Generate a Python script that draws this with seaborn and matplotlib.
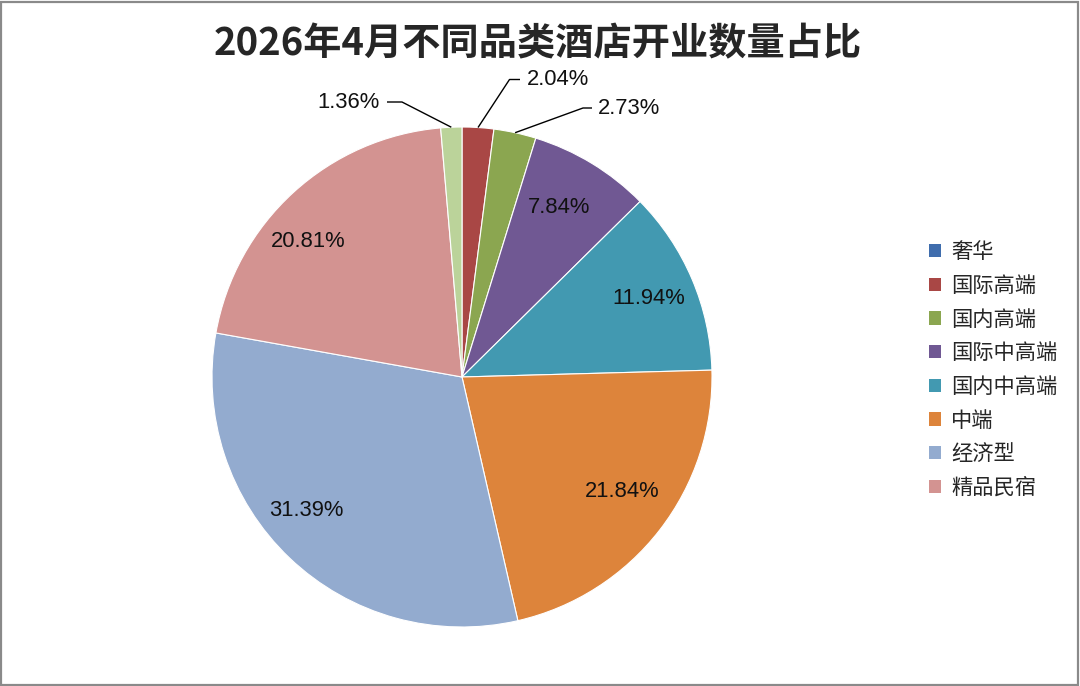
"""
2026年4月不同品类酒店开业数量占比 — pie chart recreated with seaborn/matplotlib.
"""
import matplotlib
matplotlib.use("Agg")
import matplotlib.pyplot as plt
from matplotlib.patches import Rectangle
import numpy as np
import seaborn as sns


TITLE = "2026年4月不同品类酒店开业数量占比"

# categories in drawing order (clockwise from 12 o'clock); last one has no legend entry
CATEGORIES = ["奢华", "国际高端", "国内高端", "国际中高端", "国内中高端",
              "中端", "经济型", "精品民宿", "其他"]
SHARES = [0.0, 2.04, 2.73, 7.84, 11.94, 21.84, 31.39, 20.81, 1.36]
COLORS = ["#3F6DAD", "#A94745", "#8BA650", "#705893", "#4299B1",
          "#DD843B", "#93ABCF", "#D39391", "#BBD39A"]
LEGEND_COUNT = 8

# small slices get a label outside with a leader line: elbow (x, y), line end x, text x
OUTSIDE = {
    1: ((0.19, 1.19), 0.232, 0.26, "left"),
    2: ((0.484, 1.076), 0.52, 0.544, "left"),
    8: ((-0.24, 1.10), -0.30, -0.328, "right"),
}
# inside labels: (radius, angle shift in degrees, counter-clockwise positive)
INSIDE = {
    3: (0.78, 1.4),
    4: (0.81, -0.3),
    5: (0.79, 2.2),
    6: (0.82, -5.8),
    7: (0.82, 6.3),
}

sns.set_theme(style="white")
plt.rcParams["font.family"] = ["Liberation Sans", "Noto Sans CJK SC", "DejaVu Sans"]


def main() -> None:
    fig = plt.figure(figsize=(10.8, 6.86), dpi=100)
    fig.patch.set_facecolor("white")

    # pie circle: x 212..712 px, y 128..627 px (from top)
    ax = fig.add_axes([212 / 1080, 59 / 686, 500 / 1080, 500 / 686])
    wedges, _ = ax.pie(
        SHARES, colors=COLORS, startangle=90, counterclock=False,
        radius=1.0, wedgeprops=dict(linewidth=0.8, edgecolor="white"),
    )
    ax.set_xlim(-1, 1)
    ax.set_ylim(-1, 1)
    ax.axis("off")

    for i, (w, v) in enumerate(zip(wedges, SHARES)):
        if v == 0:
            continue
        mid_deg = (w.theta1 + w.theta2) / 2
        label = f"{v:.2f}%"
        if i in OUTSIDE:
            mid = np.deg2rad(mid_deg)
            ex, ey = np.cos(mid), np.sin(mid)
            (kx, ky), endx, tx, ha = OUTSIDE[i]
            ax.plot([ex, kx, endx], [ey, ky, ky], color="black", lw=1.0,
                    clip_on=False, solid_capstyle="butt")
            ax.text(tx, ky, label, ha=ha, va="center", fontsize=15.8,
                    color="#111111", clip_on=False)
        else:
            r, shift = INSIDE.get(i, (0.8, 0.0))
            a = np.deg2rad(mid_deg + shift)
            ax.text(r * np.cos(a), r * np.sin(a), label, ha="center",
                    va="center", fontsize=15.8, color="#111111")

    fig.text(538 / 1080, 1 - 44 / 686, TITLE, ha="center", va="center",
             fontsize=27.5, fontweight="bold",
             family=["Noto Sans CJK SC", "DejaVu Sans"])

    leg = fig.legend(
        wedges[:LEGEND_COUNT], CATEGORIES[:LEGEND_COUNT],
        loc="center left", bbox_to_anchor=(929 / 1080, 1 - 370 / 686),
        frameon=False, borderpad=0, borderaxespad=0,
        handlelength=0.58, handleheight=0.58, handletextpad=0.45,
        labelspacing=0.55,
        prop={"family": ["Noto Sans CJK SC", "DejaVu Sans"], "size": 15.3},
    )
    for h in leg.legend_handles:
        h.set_edgecolor("none")

    fig.patches.append(Rectangle((0.001, 0.0015), 0.997, 0.996,
                                 transform=fig.transFigure, fill=False,
                                 edgecolor="#8a8a8a", linewidth=1.6))

    fig.savefig("out.png", dpi=100, facecolor="white")
    plt.close(fig)


if __name__ == "__main__":
    main()
